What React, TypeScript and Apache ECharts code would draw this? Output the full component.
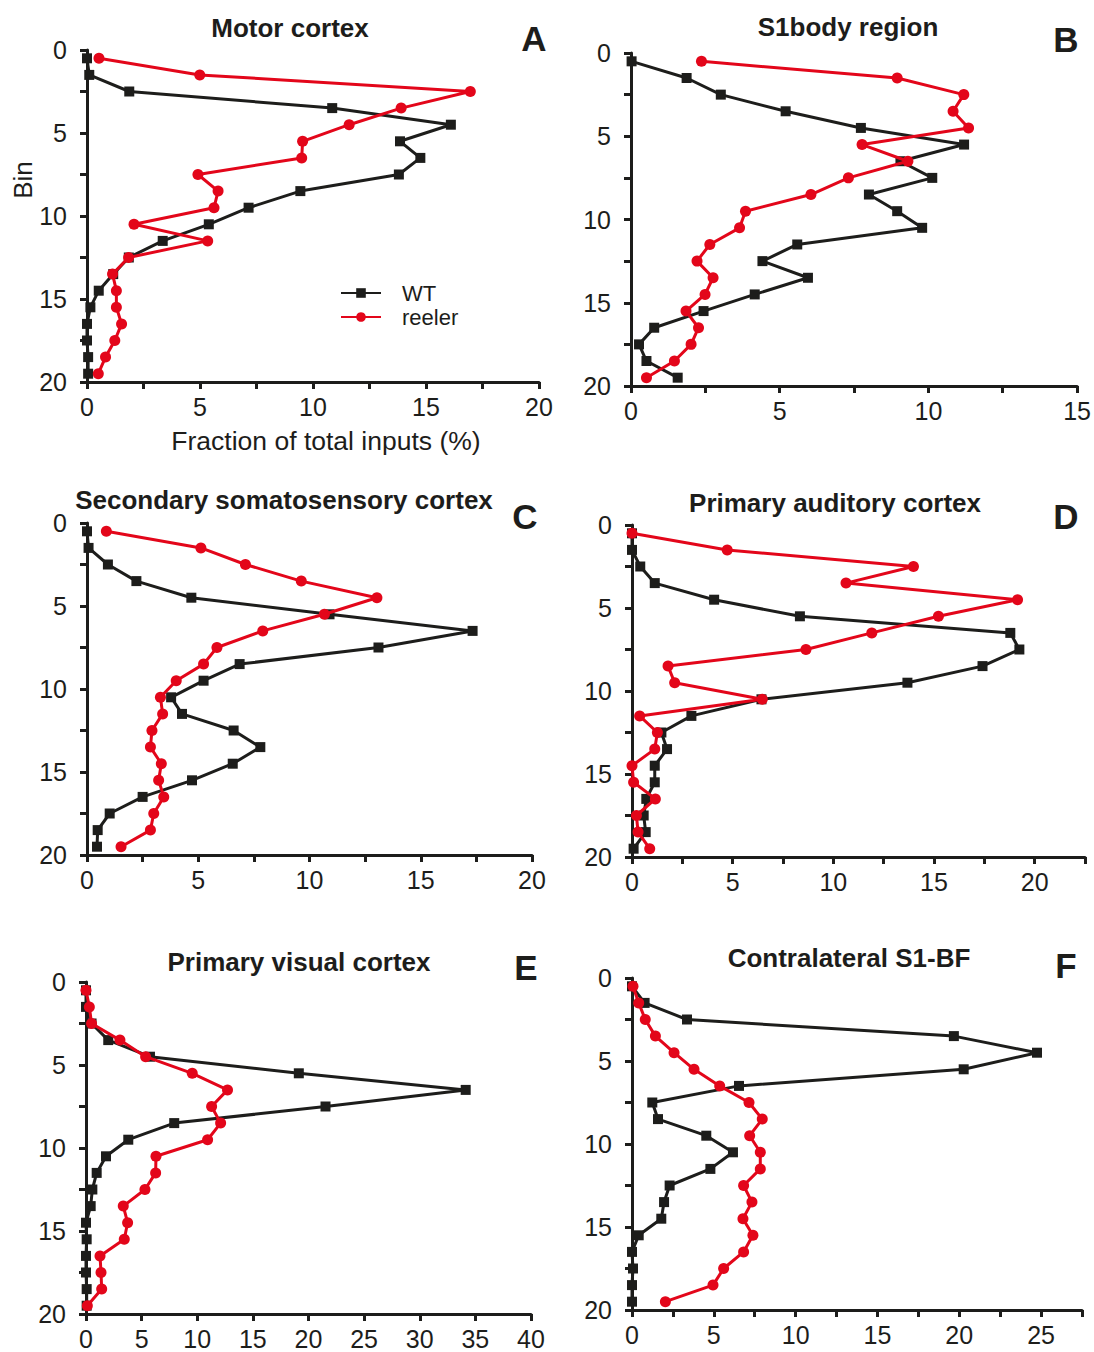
import React, { useEffect, useRef } from 'react';
import * as echarts from 'echarts';

const bins = [0.5, 1.5, 2.5, 3.5, 4.5, 5.5, 6.5, 7.5, 8.5, 9.5, 10.5, 11.5, 12.5, 13.5, 14.5, 15.5, 16.5, 17.5, 18.5, 19.5];

const motorWT = [0, 0.1, 1.87, 10.85, 16.1, 13.85, 14.75, 13.8, 9.44, 7.15, 5.39, 3.35, 1.85, 1.16, 0.52, 0.15, 0, 0, 0.05, 0.05];
const motorReeler = [0.53, 4.99, 16.96, 13.9, 11.6, 9.54, 9.5, 4.91, 5.8, 5.62, 2.08, 5.34, 1.84, 1.13, 1.3, 1.3, 1.53, 1.23, 0.82, 0.5];

const s1bodyWT = [0.02, 1.87, 3.02, 5.2, 7.73, 11.2, 9.06, 10.13, 8.0, 8.95, 9.79, 5.59, 4.42, 5.95, 4.16, 2.44, 0.78, 0.27, 0.52, 1.57];
const s1bodyReeler = [2.37, 8.95, 11.19, 10.83, 11.35, 7.77, 9.31, 7.31, 6.05, 3.85, 3.65, 2.65, 2.22, 2.76, 2.49, 1.85, 2.27, 2.02, 1.46, 0.52];

const s2WT = [0, 0.07, 0.94, 2.22, 4.69, 10.9, 17.33, 13.1, 6.86, 5.24, 3.78, 4.27, 6.59, 7.79, 6.55, 4.72, 2.5, 1.02, 0.48, 0.45];
const s2Reeler = [0.87, 5.12, 7.12, 9.63, 13.03, 10.67, 7.9, 5.84, 5.24, 4.01, 3.3, 3.4, 2.92, 2.85, 3.34, 3.22, 3.45, 3.0, 2.85, 1.53];

const a1WT = [0, 0, 0.41, 1.13, 4.08, 8.34, 18.79, 19.24, 17.41, 13.68, 6.43, 2.95, 1.46, 1.74, 1.13, 1.13, 0.71, 0.58, 0.68, 0.08];
const a1Reeler = [0, 4.73, 13.98, 10.63, 19.15, 15.22, 11.91, 8.64, 1.79, 2.12, 6.47, 0.38, 1.26, 1.13, 0, 0.08, 1.16, 0.22, 0.3, 0.88];

const v1WT = [0, 0, 0.5, 2.0, 5.75, 19.13, 34.13, 21.53, 7.93, 3.8, 1.8, 0.96, 0.57, 0.42, 0, 0.06, 0, 0, 0.06, 0.06];
const v1Reeler = [0, 0.3, 0.5, 3.05, 5.36, 9.55, 12.72, 11.29, 12.1, 10.93, 6.29, 6.26, 5.3, 3.35, 3.74, 3.44, 1.26, 1.35, 1.41, 0.12];

const contraWT = [0, 0.77, 3.36, 19.67, 24.75, 20.27, 6.54, 1.24, 1.59, 4.54, 6.17, 4.79, 2.3, 1.96, 1.79, 0.41, 0, 0.06, 0, 0];
const contraReeler = [0.06, 0.41, 0.81, 1.43, 2.57, 3.79, 5.36, 7.15, 7.96, 7.19, 7.84, 7.84, 6.82, 7.33, 6.78, 7.39, 6.82, 5.6, 4.95, 2.04];

const titles = ['Motor cortex', 'S1body region', 'Secondary somatosensory cortex', 'Primary auditory cortex', 'Primary visual cortex', 'Contralateral S1-BF'];
const letters = ['A', 'B', 'C', 'D', 'E', 'F'];
const xMaxes = [20, 15, 20, 22.5, 40, 27.5];
const xIntervals = [2.5, 2.5, 2.5, 2.5, 5, 2.5];
const seriesNames = ['WT', 'reeler'];

const BLACK = '#1d1d1b';
const RED = '#e3061a';
const FONT = '"Liberation Sans", Arial, Helvetica, sans-serif';

const layout = [
  { grid: { left: 87, top: 50, width: 452, height: 332 }, tx: 290, ty: 27.5, lx: 534, ly: 38 },
  { grid: { left: 631, top: 53, width: 451, height: 333 }, tx: 848, ty: 27, lx: 1066, ly: 39 },
  { grid: { left: 87, top: 523, width: 445, height: 332 }, tx: 284, ty: 500, lx: 525, ly: 516 },
  { grid: { left: 632, top: 525, width: 453, height: 332 }, tx: 835, ty: 503, lx: 1066, ly: 516 },
  { grid: { left: 86, top: 982, width: 445, height: 332 }, tx: 299, ty: 962, lx: 526, ly: 967.5 },
  { grid: { left: 632, top: 978, width: 450, height: 332 }, tx: 849, ty: 957.5, lx: 1066, ly: 965.5 },
];

const panelData = [
  [motorWT, motorReeler],
  [s1bodyWT, s1bodyReeler],
  [s2WT, s2Reeler],
  [a1WT, a1Reeler],
  [v1WT, v1Reeler],
  [contraWT, contraReeler],
];

function buildOption() {
  const grids: any[] = [];
  const xAxes: any[] = [];
  const yAxes: any[] = [];
  const series: any[] = [];
  const graphic: any[] = [];

  const axisCommon = {
    axisLine: { show: true, onZero: false, lineStyle: { color: BLACK, width: 3 } },
    axisTick: { show: true, length: 7, inside: false, lineStyle: { color: BLACK, width: 3 } },
    splitLine: { show: false },
  };
  const fmt = (v: number) => (v % 5 === 0 ? String(v) : '');

  layout.forEach((p, i) => {
    grids.push({ ...p.grid, containLabel: false });
    xAxes.push({
      type: 'value',
      gridIndex: i,
      position: 'bottom',
      min: 0,
      max: xMaxes[i],
      interval: xIntervals[i],
      ...axisCommon,
      axisLabel: { formatter: fmt, margin: 12, fontSize: 25, color: BLACK, fontFamily: FONT, showMaxLabel: true, showMinLabel: true },
    });
    yAxes.push({
      type: 'value',
      gridIndex: i,
      inverse: true,
      min: 0,
      max: 20,
      interval: 2.5,
      ...axisCommon,
      axisLabel: { formatter: fmt, margin: 20, fontSize: 25, color: BLACK, fontFamily: FONT },
    });
    const [wt, re] = panelData[i];
    series.push({
      name: seriesNames[0],
      type: 'line',
      xAxisIndex: i,
      yAxisIndex: i,
      data: bins.map((b, j) => [wt[j], b]),
      symbol: 'rect',
      symbolSize: 10,
      clip: false,
      lineStyle: { color: BLACK, width: 3 },
      itemStyle: { color: BLACK },
      z: 3,
    });
    series.push({
      name: seriesNames[1],
      type: 'line',
      xAxisIndex: i,
      yAxisIndex: i,
      data: bins.map((b, j) => [re[j], b]),
      symbol: 'circle',
      symbolSize: 11,
      clip: false,
      lineStyle: { color: RED, width: 3 },
      itemStyle: { color: RED },
      z: 4,
    });
    graphic.push({
      type: 'text',
      x: p.tx,
      y: p.ty,
      style: { text: titles[i], fontSize: 26, fontWeight: 'bold', fontFamily: FONT, fill: BLACK, align: 'center', verticalAlign: 'middle' },
    });
    graphic.push({
      type: 'text',
      x: p.lx,
      y: p.ly,
      style: { text: letters[i], fontSize: 35, fontWeight: 'bold', fontFamily: FONT, fill: BLACK, align: 'center', verticalAlign: 'middle' },
    });
  });

  graphic.push({
    type: 'text',
    x: 326,
    y: 441,
    style: { text: 'Fraction of total inputs (%)', fontSize: 26.5, fontFamily: FONT, fill: BLACK, align: 'center', verticalAlign: 'middle' },
  });
  graphic.push({
    type: 'text',
    x: 23,
    y: 180,
    rotation: Math.PI / 2,
    style: { text: 'Bin', fontSize: 26, fontFamily: FONT, fill: BLACK, align: 'center', verticalAlign: 'middle' },
  });

  return {
    animation: false,
    backgroundColor: '#ffffff',
    grid: grids,
    xAxis: xAxes,
    yAxis: yAxes,
    series,
    graphic,
    legend: {
      data: seriesNames,
      orient: 'vertical',
      left: 340,
      top: 281,
      itemWidth: 40,
      itemHeight: 12,
      itemGap: 0,
      padding: 0,
      selectedMode: false,
      textStyle: { fontSize: 22, lineHeight: 24, color: BLACK, fontFamily: FONT, padding: [0, 0, 0, 16] },
    },
  };
}

export default function App() {
  const ref = useRef<HTMLDivElement>(null);
  useEffect(() => {
    if (!ref.current) return;
    const chart = echarts.init(ref.current, undefined, { renderer: 'svg' });
    chart.setOption(buildOption() as any);
    return () => chart.dispose();
  }, []);
  return (
    <div
      ref={ref}
      style={{ position: 'absolute', left: 0, top: 0, width: 1094, height: 1352, background: '#fff' }}
    />
  );
}
